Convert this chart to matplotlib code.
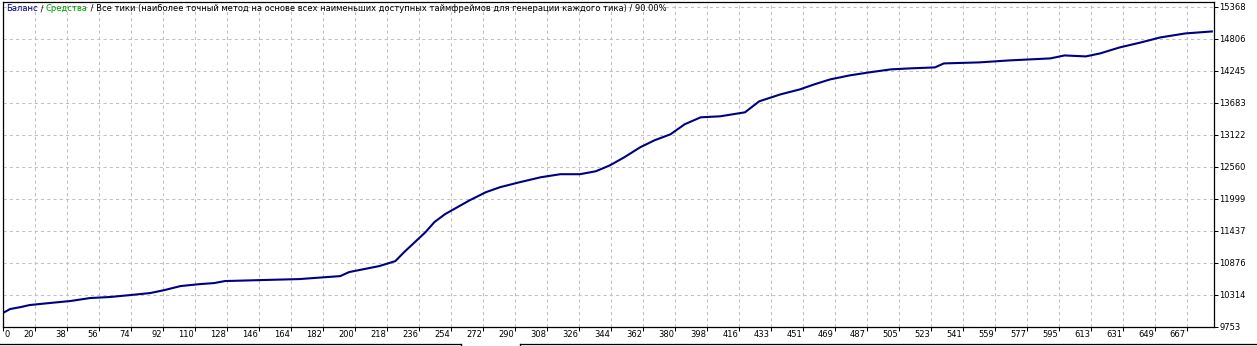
import matplotlib
matplotlib.use('Agg')
import matplotlib.pyplot as plt
from matplotlib.lines import Line2D
from matplotlib.offsetbox import TextArea, HPacker, AnchoredOffsetbox

# ---- data ----
trades = [0, 4, 10, 15, 26, 38, 49, 60, 72, 83, 91, 100, 111, 119, 125, 145, 167,
          190, 195, 212, 221, 226, 232, 238, 243, 249, 255, 263, 272, 280, 291,
          303, 314, 325, 334, 342, 350, 359, 367, 376, 384, 393, 404, 418, 426,
          438, 449, 457, 466, 477, 488, 500, 511, 525, 530, 550, 567, 590, 598,
          610, 618, 629, 641, 652, 666, 681]
balance = [10000, 10068, 10103, 10138, 10173, 10209, 10261, 10279, 10314, 10349,
           10401, 10471, 10506, 10524, 10559, 10576, 10594, 10646, 10717, 10822,
           10909, 11067, 11242, 11417, 11593, 11733, 11838, 11978, 12118, 12206,
           12293, 12381, 12434, 12434, 12486, 12591, 12731, 12907, 13029, 13134,
           13310, 13432, 13450, 13520, 13713, 13835, 13923, 14010, 14098, 14168,
           14221, 14273, 14291, 14308, 14378, 14396, 14431, 14466, 14518, 14501,
           14553, 14658, 14746, 14834, 14904, 14939]

x_tick_labels = ['0', '20', '38', '56', '74', '92', '110', '128', '146', '164', '182',
                 '200', '218', '236', '254', '272', '290', '308', '326', '344', '362',
                 '380', '398', '416', '433', '451', '469', '487', '505', '523', '541',
                 '559', '577', '595', '613', '631', '649', '667']
y_ticks = [9753, 10314, 10876, 11437, 11999, 12560, 13122, 13683, 14245, 14806, 15368]

title_parts = [("Баланс", "#000080"), (" / ", "black"), ("Средства", "#00a000"),
               (" / Все тики (наиболее точный метод на основе всех наименьших доступных "
                "таймфреймов для генерации каждого тика) / 90.00%", "black")]

# ---- figure ----
W, H = 1257, 346
fig = plt.figure(figsize=(W / 100, H / 100), dpi=100)
fig.patch.set_facecolor('white')
left, right, top, bottom = 3, 1214, 1.5, 327
ax = fig.add_axes([left / W, 1 - bottom / H, (right - left) / W, (bottom - top) / H])

n_grid = len(x_tick_labels) - 1
step = 667 / n_grid
xpos = [i * step for i in range(len(x_tick_labels))]
ax.set_xlim(0, (right - left) / 32.0 * step)
ypx = (y_ticks[-1] - y_ticks[0]) / 320.0
ax.set_ylim(y_ticks[0], y_ticks[-1] + 5.5 * ypx)

ax.set_xticks(xpos)
ax.set_xticklabels([])
ax.set_yticks(y_ticks)
ax.set_yticklabels([])
ax.grid(True, color='#c0c0c0', linestyle=(0, (3, 3)), linewidth=0.75)
ax.set_axisbelow(True)
ax.tick_params(axis='x', direction='out', length=3, width=0.75, color='black')
ax.tick_params(axis='y', direction='out', length=3, width=0.75, color='black',
               left=False, right=True)
for s in ax.spines.values():
    s.set_color('black')
    s.set_linewidth(0.9)

ax.plot(trades, balance, color='#000080', linewidth=1.5, solid_joinstyle='miter')

fs = 6
# x tick labels (right-aligned to the grid line, "0" left-aligned)
for i, (p, lab) in enumerate(zip(xpos, x_tick_labels)):
    if i == 0:
        ax.annotate(lab, (p, 0), xycoords=('data', 'axes fraction'),
                    xytext=(1.5, -3), textcoords='offset pixels',
                    ha='left', va='top', fontsize=fs)
    else:
        ax.annotate(lab, (p, 0), xycoords=('data', 'axes fraction'),
                    xytext=(-1, -3), textcoords='offset pixels',
                    ha='right', va='top', fontsize=fs)
# y tick labels
for v in y_ticks:
    ax.annotate(str(v), (1, v), xycoords=('axes fraction', 'data'),
                xytext=(5, 0), textcoords='offset pixels',
                ha='left', va='center', fontsize=fs)

# title inside the plot
boxes = [TextArea(t, textprops=dict(color=c, fontsize=fs)) for t, c in title_parts]
pack = HPacker(children=boxes, align='baseline', pad=0, sep=0)
anch = AnchoredOffsetbox(loc='upper left', child=pack, pad=0, borderpad=0,
                         frameon=False, bbox_to_anchor=(6 / W, 1 - 4 / H),
                         bbox_transform=fig.transFigure)
fig.add_artist(anch)

# bottom tab-bar frame
def fl(x0, y0, x1, y1):
    fig.add_artist(Line2D([x0 / W, x1 / W], [1 - y0 / H, 1 - y1 / H],
                          transform=fig.transFigure, color='black', linewidth=0.9))

fl(0, 343.5, 461, 343.5)
fl(461, 343.5, 461, 346)
fl(520, 343.5, W, 343.5)
fl(520, 343.5, 520, 346)

fig.savefig('out.png', dpi=100, facecolor='white')
